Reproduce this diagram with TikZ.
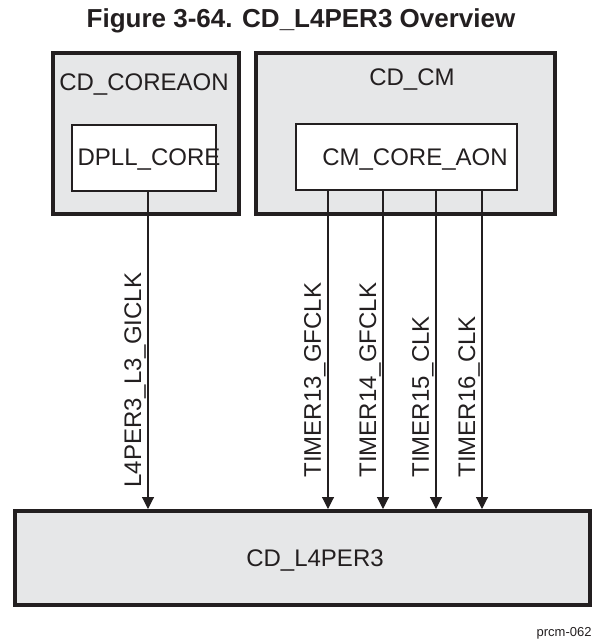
\documentclass[tikz,border=0pt]{standalone}
\usepackage{fontspec}
\setmainfont{Liberation Sans}
\usepackage{xcolor}
\usetikzlibrary{arrows.meta}
\definecolor{cdgray}{HTML}{E6E7E8}
\definecolor{ink}{HTML}{231F20}

\begin{document}
\begin{tikzpicture}[
    x=0.5pt,
    y=-0.5pt,
    every node/.style={text=ink},
    cdbox/.style={
        draw=ink,
        fill=cdgray,
        line width=2pt,
        inner sep=0pt
    },
    modbox/.style={
        draw=ink,
        fill=white,
        line width=1pt,
        inner sep=0pt,
        minimum height=33pt
    },
    lbl/.style={
        font=\fontsize{12}{14}\selectfont,
        inner sep=0pt
    },
    siglbl/.style={
        lbl,
        rotate=90,
        anchor=base west
    },
    clkarrow/.style={
        -{Triangle[length=6pt,width=6pt]},
        draw=ink,
        line width=0.55pt
    }
]
\useasboundingbox (0,0) rectangle (592,639);
\node[font=\bfseries\fontsize{13}{15}\selectfont, inner sep=0pt, anchor=base] (title) at (301,27)
{Figure 3-64. CD\_L4PER3 Overview};
% clock domains
\node[cdbox, minimum width=93pt, minimum height=80.5pt] (coreaon) at (146,133.5) {};
\node[lbl, anchor=base] (coreaontxt) at (144,90) {CD\_COREAON};
\node[cdbox, minimum width=149.5pt, minimum height=80.5pt] (cm) at (405.5,133.5) {};
\node[lbl, anchor=base] (cmtxt) at (412,85) {CD\_CM};
\node[cdbox, minimum width=287.5pt, minimum height=47pt] (l4per3) at (302,558) {};
\node[lbl] (l4per3txt) at (315,560) {CD\_L4PER3};
% modules
\node[modbox, minimum width=72pt] (dpll) at (144,158) {};
\node[lbl, anchor=base] (dplltxt) at (149,165) {DPLL\_CORE};
\node[modbox, minimum width=110.5pt] (cmaon) at (406.5,157) {};
\node[lbl, anchor=base] (cmaontxt) at (415,165) {CM\_CORE\_AON};
% clock outputs
\coordinate (gic) at ([xshift=2pt]dpll.south);
\coordinate (t13) at ([xshift=-39.25pt]cmaon.south);
\coordinate (t14) at ([xshift=-11.75pt]cmaon.south);
\coordinate (t15) at ([xshift=14.75pt]cmaon.south);
\coordinate (t16) at ([xshift=37.75pt]cmaon.south);
\draw[clkarrow] (gic) -- (gic |- l4per3.north);
\draw[clkarrow] (t13) -- (t13 |- l4per3.north);
\draw[clkarrow] (t14) -- (t14 |- l4per3.north);
\draw[clkarrow] (t15) -- (t15 |- l4per3.north);
\draw[clkarrow] (t16) -- (t16 |- l4per3.north);
\node[siglbl] (gictxt) at (141,488) {L4PER3\_L3\_GICLK};
\node[siglbl] (t13txt) at (321,478) {TIMER13\_GFCLK};
\node[siglbl] (t14txt) at (376,478) {TIMER14\_GFCLK};
\node[siglbl] (t15txt) at (429,478) {TIMER15\_CLK};
\node[siglbl] (t16txt) at (475,478) {TIMER16\_CLK};
\node[font=\fontsize{6.5}{8}\selectfont, inner sep=0pt, anchor=base east] (figid) at (592,636) {prcm-062};
\end{tikzpicture}
\end{document}
